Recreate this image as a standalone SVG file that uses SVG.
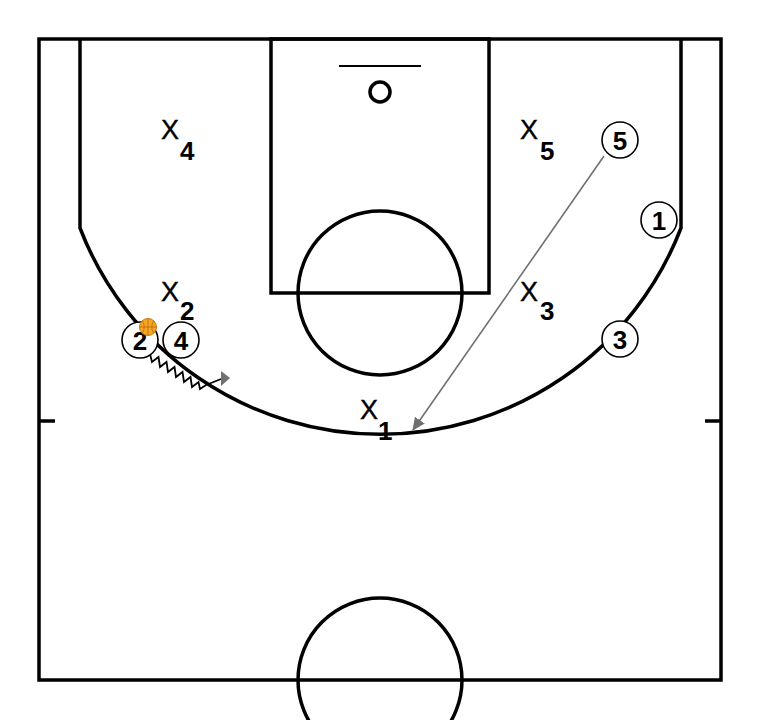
<svg xmlns="http://www.w3.org/2000/svg" width="760" height="720" viewBox="0 0 760 720">
<style>
.court{fill:none;stroke:#000;stroke-width:3.5}
.pl circle{fill:#fff;stroke:#000;stroke-width:1.6}
.pl text{font-family:"Liberation Sans",Arial,sans-serif;font-weight:bold;font-size:26px;text-anchor:middle}
.df text.x{font-family:"Liberation Sans",Arial,sans-serif;font-size:27px;stroke:#000;stroke-width:0.4}
.df text.n{font-family:"Liberation Sans",Arial,sans-serif;font-weight:bold;font-size:26px}
.pass{fill:none;stroke:#707070;stroke-width:1.6}
.drib{fill:none;stroke:#000;stroke-width:1.8;stroke-linejoin:miter}
</style>
<defs>
<marker id="ah" markerWidth="14" markerHeight="12" refX="12" refY="6" orient="auto" markerUnits="userSpaceOnUse">
<path d="M0,0 L13,6 L0,12 Z" fill="#707070"/>
</marker>
</defs>
<rect width="760" height="720" fill="#fff"/>
<g id="court">
<rect class="court" x="39" y="39" width="682" height="641"/>
<path class="court" d="M80,39 V228 A322,322 0 0 0 681,228 V39"/>
<rect class="court" x="271" y="39" width="218" height="254"/>
<circle class="court" cx="380" cy="293" r="82"/>
<line x1="339" y1="66" x2="421" y2="66" stroke="#000" stroke-width="2"/>
<circle cx="380" cy="92" r="10" fill="none" stroke="#000" stroke-width="3.5"/>
<circle class="court" cx="380" cy="680" r="82"/>
<line class="court" x1="39" y1="421" x2="55" y2="421"/>
<line class="court" x1="705" y1="421" x2="721" y2="421"/>
</g>
<g id="connectors">
<line class="pass" x1="604" y1="156" x2="413" y2="430" marker-end="url(#ah)"/>
<polyline class="drib" points="150,354 152,362 158.5,357 160,367 166.5,362 168,372 174.5,367 176,377 182.5,372 184,382 190.5,377 192,387 198.5,382 200,389 206,385 221,379"/>
<polygon points="221,371 230,378 221,386" fill="#707070"/>
</g>
<g id="player5" class="pl"><circle cx="620" cy="140" r="18"/><text x="620" y="149.5">5</text></g>
<g id="player1" class="pl"><circle cx="659" cy="220" r="18"/><text x="659" y="229.5">1</text></g>
<g id="player3" class="pl"><circle cx="620" cy="339" r="18"/><text x="620" y="348.5">3</text></g>
<g id="player2" class="pl"><circle cx="140" cy="340" r="18"/><text x="140" y="349.5">2</text></g>
<g id="player4" class="pl"><circle cx="181" cy="340" r="18"/><text x="181" y="349.5">4</text></g>
<g id="ball">
<circle cx="148" cy="327" r="8.5" fill="#f5a623" stroke="#c87814" stroke-width="1"/>
<path d="M139.5,327 H156.5 M148,318.5 V335.5 M142.5,321 Q146,327 142.5,333 M153.5,321 Q150,327 153.5,333" fill="none" stroke="#b86a10" stroke-width="0.8"/>
</g>
<g id="defX4" class="df"><text class="x" x="161" y="139">X</text><text class="n" x="180" y="160">4</text></g>
<g id="defX5" class="df"><text class="x" x="520" y="139">X</text><text class="n" x="540" y="160">5</text></g>
<g id="defX2" class="df"><text class="x" x="161" y="301">X</text><text class="n" x="180" y="320">2</text></g>
<g id="defX3" class="df"><text class="x" x="520" y="301">X</text><text class="n" x="540" y="320">3</text></g>
<g id="defX1" class="df"><text class="x" x="360" y="419">X</text><text class="n" x="378" y="440">1</text></g>
</svg>
